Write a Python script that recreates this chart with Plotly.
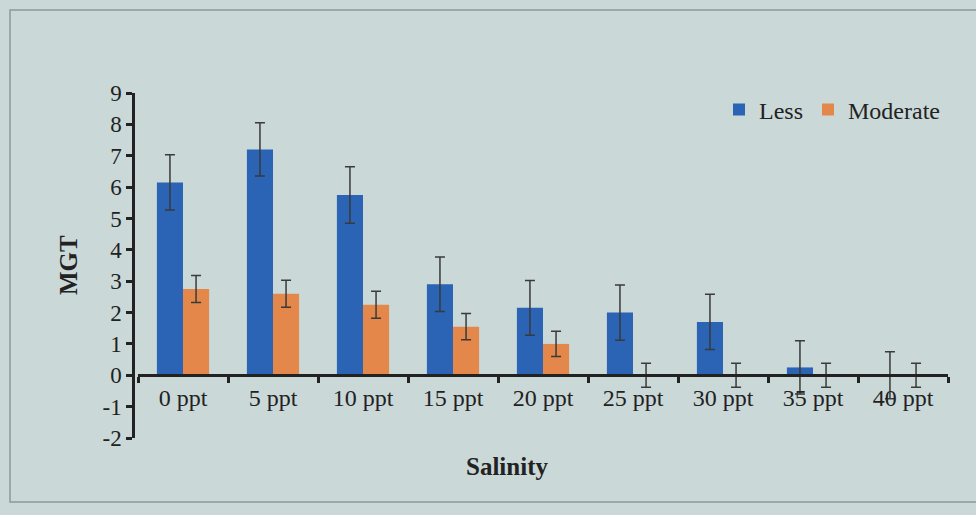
import plotly.graph_objects as go

# Mean germination time by salinity level
categories = ["0 ppt", "5 ppt", "10 ppt", "15 ppt", "20 ppt", "25 ppt", "30 ppt", "35 ppt", "40 ppt"]
less_vals = [6.15, 7.2, 5.75, 2.9, 2.15, 2.0, 1.7, 0.25, 0.0]
less_err = [0.88, 0.85, 0.9, 0.87, 0.87, 0.88, 0.88, 0.85, 0.75]
moderate_vals = [2.75, 2.6, 2.25, 1.55, 1.0, 0.0, 0.0, 0.0, 0.0]
moderate_err = [0.43, 0.43, 0.43, 0.42, 0.4, 0.38, 0.38, 0.38, 0.38]
y_ticks = [-2, -1, 0, 1, 2, 3, 4, 5, 6, 7, 8, 9]

FONT = "Liberation Serif, Times New Roman, serif"
INK = "#222222"
BG = "#cad8d8"

err_style = dict(type="data", thickness=1.5, width=5, color="#3a3a3a")

fig = go.Figure()
fig.add_trace(go.Bar(
    name="Less", x=categories, y=less_vals,
    marker=dict(color="#2b63b5", line=dict(width=0)),
    error_y=dict(array=less_err, **err_style),
))
fig.add_trace(go.Bar(
    name="Moderate", x=categories, y=moderate_vals,
    marker=dict(color="#e3874a", line=dict(width=0)),
    error_y=dict(array=moderate_err, **err_style),
))

W, H = 976, 515
L, R, T, B = 133, 28, 93, 77
pw, ph = W - L - R, H - T - B

def px_x(x):
    return (x - L) / pw

def px_y(y):
    return (H - B - y) / ph

fig.update_layout(
    width=W, height=H,
    margin=dict(l=L, r=R, t=T, b=B),
    paper_bgcolor=BG, plot_bgcolor=BG,
    font=dict(family=FONT, color=INK, size=24),
    barmode="group", bargap=0.42, bargroupgap=0,
    showlegend=True,
    legend=dict(
        orientation="h", x=px_x(945), xanchor="right",
        y=px_y(110), yanchor="middle",
        bgcolor="rgba(0,0,0,0)", font=dict(size=24, family=FONT, color=INK),
        itemwidth=30, tracegroupgap=0,
    ),
    xaxis=dict(
        domain=[5 / pw, 1],
        anchor="free", position=2 / 11,
        showline=True, linecolor=INK, linewidth=2.5,
        ticks="outside", tickson="boundaries", ticklen=6, tickwidth=2.5, tickcolor=INK,
        showgrid=False, zeroline=False,
        tickfont=dict(size=24, family=FONT, color=INK),
    ),
    yaxis=dict(
        range=[-2, 9], anchor="free", position=0,
        tickvals=y_ticks, ticktext=[str(v) for v in y_ticks],
        showline=True, linecolor=INK, linewidth=2.5,
        ticks="outside", ticklen=6, tickwidth=2.5, tickcolor=INK,
        showgrid=False, zeroline=False,
        tickfont=dict(size=23, family=FONT, color=INK),
    ),
    annotations=[
        dict(text="<b>Salinity</b>", xref="paper", yref="paper",
             x=px_x(507), y=px_y(466), xanchor="center", yanchor="middle",
             showarrow=False, font=dict(size=25, family=FONT, color=INK)),
        dict(text="<b>MGT</b>", xref="paper", yref="paper",
             x=px_x(68), y=px_y(265), xanchor="center", yanchor="middle",
             textangle=-90, showarrow=False, font=dict(size=25, family=FONT, color=INK)),
    ],
    shapes=[
        dict(type="rect", xref="paper", yref="paper",
             x0=px_x(10), x1=px_x(992), y0=px_y(502), y1=px_y(10),
             line=dict(color="#8d9999", width=1.5), fillcolor="rgba(0,0,0,0)", layer="below"),
    ],
)

fig.write_html("out.html")
